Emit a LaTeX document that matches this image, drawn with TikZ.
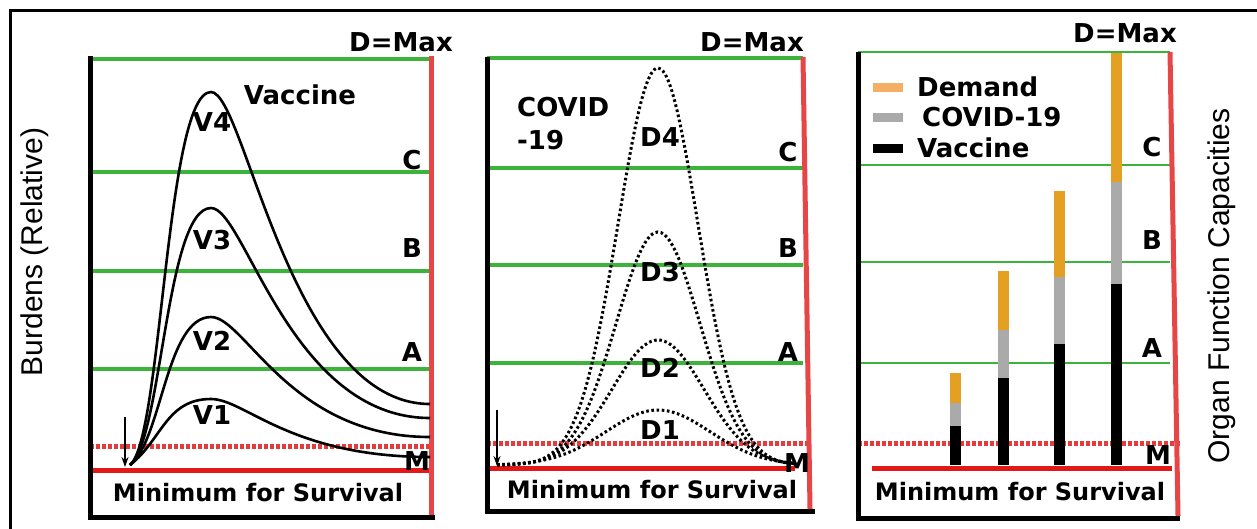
\documentclass[tikz,border=0pt]{standalone}
\usepackage{fontspec}
\setmainfont{Liberation Sans}
\newfontfamily\lblfont{DejaVu Sans}
\usetikzlibrary{arrows.meta}
\definecolor{lvlgreen}{RGB}{60,180,60}
\definecolor{minred}{RGB}{225,25,25}
\definecolor{edgered}{RGB}{230,70,70}
\definecolor{covgray}{RGB}{170,170,170}
\definecolor{demorange}{RGB}{228,160,35}
\definecolor{demlight}{RGB}{245,175,100}
\tikzset{>/.tip={Stealth[length=10pt,width=7pt]},
  lbl/.style={font=\lblfont\bfseries\fontsize{26}{28}\selectfont, inner sep=0pt},
  lvl/.style={font=\lblfont\bfseries\fontsize{26}{28}\selectfont, inner sep=0pt},
  minlbl/.style={font=\lblfont\bfseries\fontsize{24}{26}\selectfont, inner sep=0pt},
  axislabel/.style={font=\fontsize{30}{32}\selectfont, inner sep=0pt, rotate=90},
  levelline/.style={lvlgreen, line width=3.5pt},
  warnline/.style={minred!85!white, line width=5pt, dash pattern=on 3.5pt off 2.5pt},
  minline/.style={minred, line width=5pt},
  axisline/.style={black, line width=5pt},
  edgeline/.style={edgered, line width=5pt},
  vcurve/.style={black, line width=2.6pt},
  dcurve/.style={black, line width=3pt, dash pattern=on 2.6pt off 2.6pt},
  bar/.style={line width=11pt},
  swatch/.style={line width=9pt}}

\begin{document}
\begin{tikzpicture}[x=1pt, y=-1pt]
\useasboundingbox (0,0) rectangle (1257,528);
\draw[line width=3pt] (10,540) -- (10,10) -- (1270,10);
\node[axislabel] (burden) at (35,252) {Burdens (Relative)};
\node[axislabel] (organ) at (1222,286) {Organ Function Capacities};

% vaccine
\foreach \y in {59,172,271,369}
  \draw[levelline] (90,\y) -- (431,\y);
\draw[warnline] (90,446) -- (431,446);
\draw[minline] (90,470) -- (431,470);
\draw[axisline] (90,56) -- (90,517) -- (435,517);
\draw[edgeline] (431,56) -- (431,515);
\foreach \p/\e in {92/404, 208/418, 317/437, 399/457}
  \draw[vcurve] (130,465) .. controls (162,440) and (166,\p) .. (211,\p)
    .. controls (245,\p) and (290,\e) .. (430,\e);
\coordinate (vtop) at (125,417);
\coordinate (vtip) at (125,467);
\draw[->, line width=1.4pt] (vtop) -- (vtip);
\node[lbl] (vmax) at (401,42) {D=Max};
\node[lbl] (vac) at (300,95) {Vaccine};
\foreach \n/\y in {4/122,3/240,2/341,1/415}
  \node[lbl] (v\n) at (212,\y) {V\n};
\foreach \n/\y in {C/160,B/248,A/352}
  \node[lvl] (vlvl\n) at (412,\y) {\n};
\node[lvl] (vm) at (417,461) {M};
\node[minlbl] (vmin) at (258,493) {Minimum for Survival};

% covid
\foreach \y in {58,168,265,363}
  \draw[levelline] (487,\y) -- (803,\y);
\draw[warnline] (487,443) -- (808,443);
\draw[minline] (487,468) -- (795,468);
\draw[axisline] (487,57) -- (487,511) -- (815,511);
\draw[edgeline] (803,57) -- (810,509);
\foreach \a/\s in {397/40, 233/42, 125/46, 55/52}
  \draw[dcurve] plot[domain=497:795, samples=90, smooth]
    (\x, {465-\a*exp(-0.5*((\x-658)/\s)^2)});
\coordinate (dtop) at (497,410);
\coordinate (dtip) at (497,466);
\draw[->, line width=1.4pt] (dtop) -- (dtip);
\node[lbl] (dmax) at (752,42) {D=Max};
\node[lbl, anchor=west] (covid) at (517,107) {COVID};
\node[lbl, anchor=west] (covidn) at (517,140) {-19};
\foreach \n/\y in {4/137,3/272,2/368,1/430}
  \node[lbl] (d\n) at (660,\y) {D\n};
\foreach \n/\y in {C/152,B/248,A/352}
  \node[lvl] (dlvl\n) at (788,\y) {\n};
\node[lvl] (dm) at (797,463) {M};
\node[minlbl] (dmin) at (652,490) {Minimum for Survival};

% organ capacities
\foreach \y in {52,165,262,363}
  \draw[levelline, line width=2.6pt] (858,\y) -- (1170,\y);
\draw[warnline] (858,443) -- (1180,443);
\draw[minline] (872,468) -- (1172,468);
\draw[axisline] (858,52) -- (858,518) -- (1180,518);
\draw[edgeline] (1170,52) -- (1178,516);
\foreach \x/\k/\g/\d in {955/426/403/373, 1003/378/330/271, 1059/344/277/191, 1116/284/182/53}
{
  \draw[bar, black] (\x,465) -- (\x,\k);
  \draw[bar, covgray] (\x,\k) -- (\x,\g);
  \draw[bar, demorange] (\x,\g) -- (\x,\d);
}
\draw[swatch, demlight] (873,87) -- (903,87);
\draw[swatch, covgray] (873,117) -- (903,117);
\draw[swatch, black] (873,148) -- (903,148);
\node[lbl, anchor=west] (demand) at (917,87) {Demand};
\node[lbl, anchor=west] (covleg) at (922,117) {COVID-19};
\node[lbl, anchor=west] (vacleg) at (917,148) {Vaccine};
\node[lbl] (omax) at (1125,33) {D=Max};
\foreach \n/\y in {C/147,B/240,A/348}
  \node[lvl] (olvl\n) at (1152,\y) {\n};
\node[lvl] (om) at (1158,455) {M};
\node[minlbl] (omin) at (1020,492) {Minimum for Survival};
\end{tikzpicture}
\end{document}
